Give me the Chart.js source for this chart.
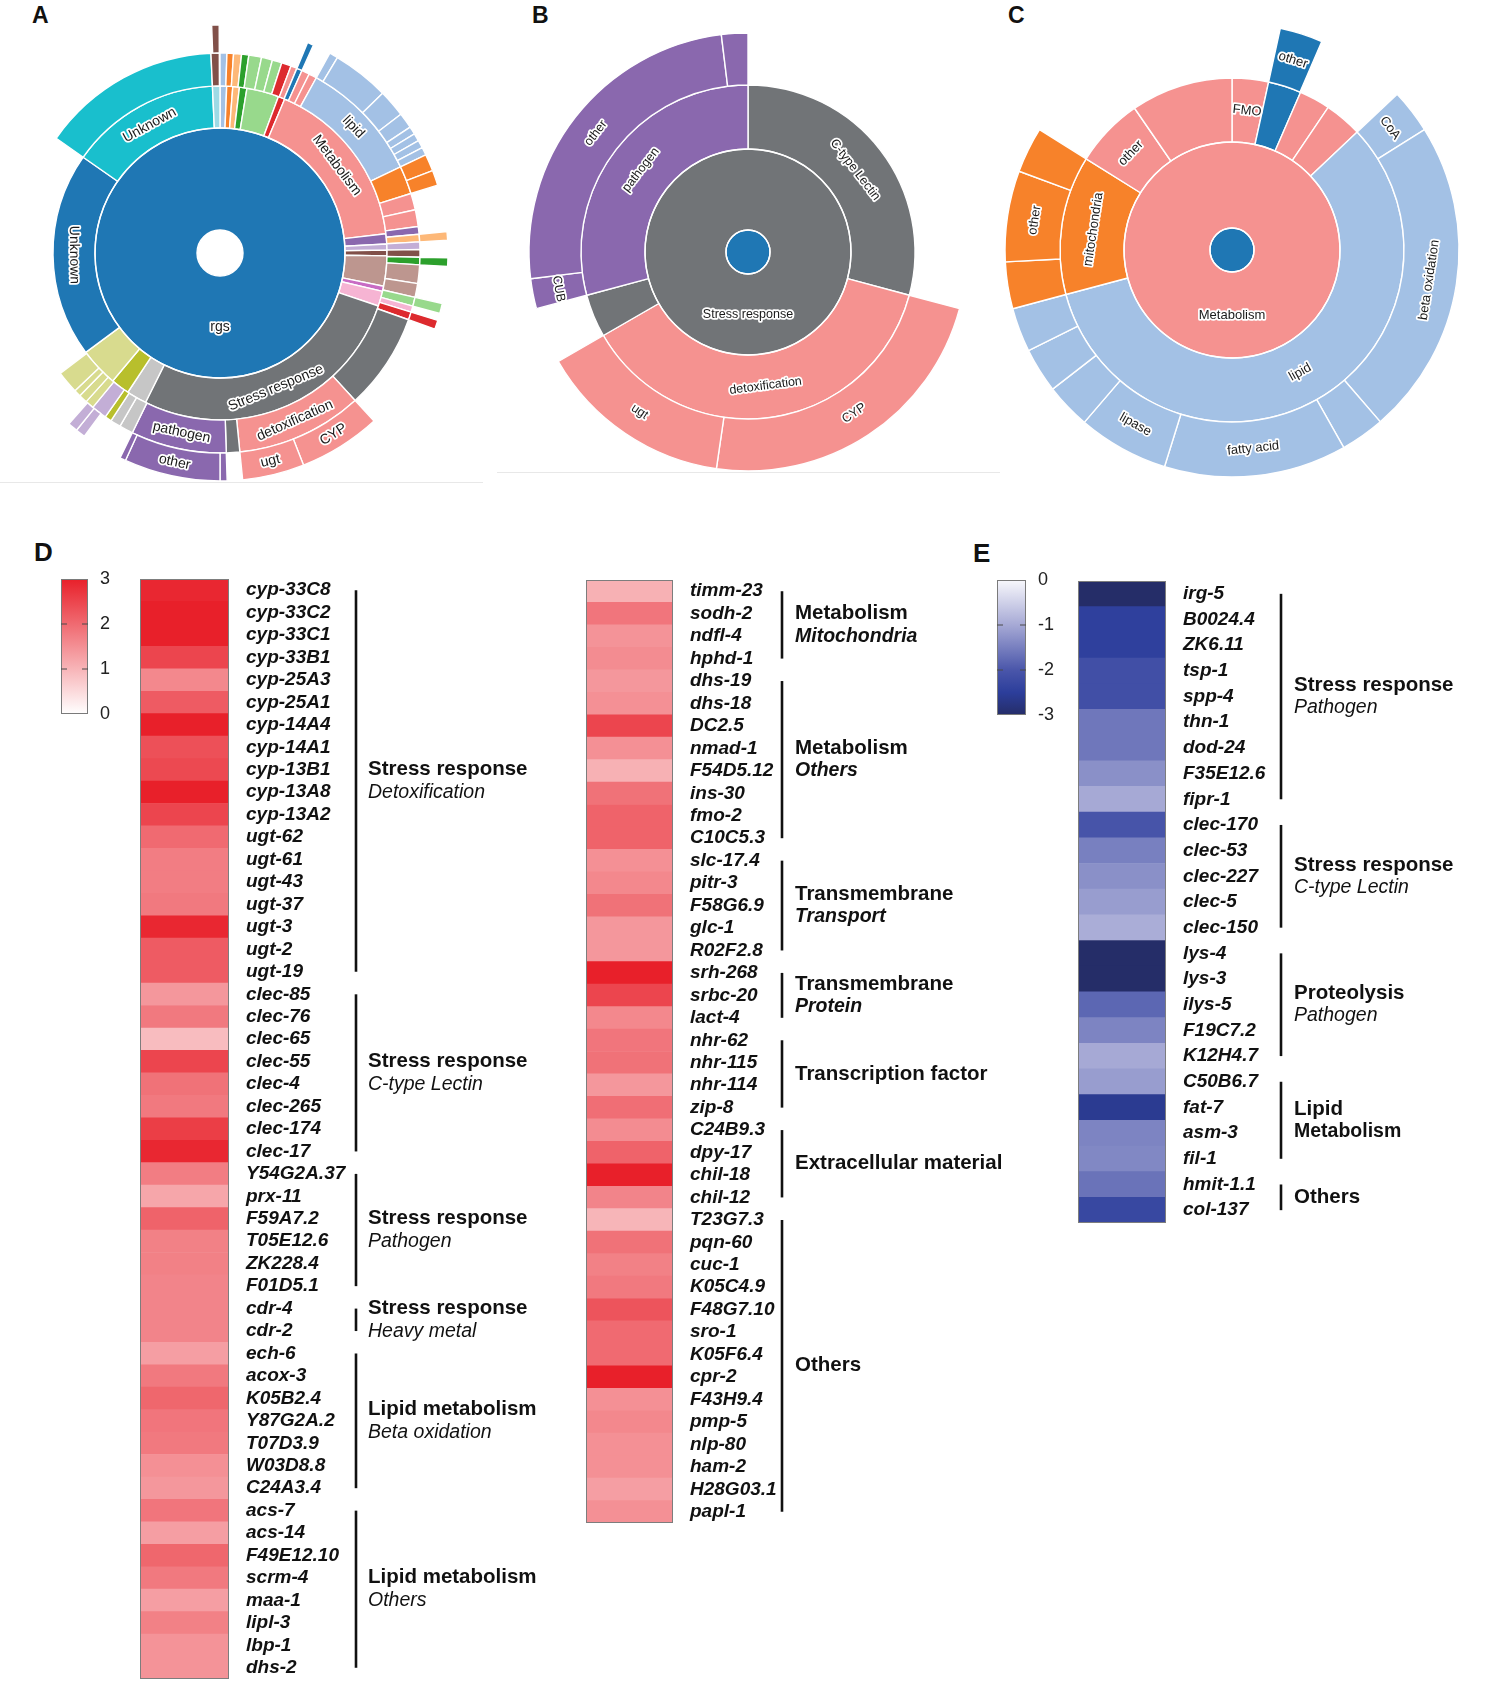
<!DOCTYPE html>
<html>
<head>
<meta charset="utf-8">
<title>Sunbursts and heatmaps</title>
<script src="https://cdn.jsdelivr.net/npm/chart.js@4.4.1/dist/chart.umd.min.js"></script>
<style>
  body { margin: 0; background: #fff; }
  #figure { position: relative; width: 1495px; height: 1681px; overflow: hidden; font-family: "Liberation Sans", Arial, sans-serif; color: #111; }
  .tag { position: absolute; font-weight: bold; line-height: 1; }
  .box { position: absolute; }
  .rule { position: absolute; height: 1px; background: #e8e8e8; }
</style>
</head>
<body>
<div id="figure">
  <div class="tag" style="left:32px;top:4px;font-size:23px">A</div>
  <div class="tag" style="left:532px;top:4px;font-size:23px">B</div>
  <div class="tag" style="left:1008px;top:4px;font-size:23px">C</div>
  <div class="tag" style="left:34px;top:539px;font-size:26px">D</div>
  <div class="tag" style="left:973px;top:540px;font-size:26px">E</div>
  <div class="rule" style="left:0;top:482px;width:483px"></div>
  <div class="rule" style="left:497px;top:472px;width:503px"></div>

  <canvas id="sunA" class="box"></canvas>
  <canvas id="sunB" class="box"></canvas>
  <canvas id="sunC" class="box"></canvas>
  <canvas id="heatD1" class="box"></canvas>
  <canvas id="heatD2" class="box"></canvas>
  <canvas id="heatE" class="box"></canvas>
  <canvas id="barD" class="box"></canvas>
  <canvas id="barE" class="box"></canvas>
</div>

<script>
// ---- sunburst A (segment spans in degrees, clockwise from 12 o'clock) ----
const aRing1 = [360]
const aRing1Labels = ["rgs"]
const aRing2 = [2.3, 2.1, 2.3, 2.6, 11.2, 2.3, 60.6, 3.5, 2.1, 2, 10.5, 1.8, 5.2, 98, 7, 6.5, 13.5, 71.5, 52.4, 2.6]
const aRing2Labels = ["", "", "", "", "", "", "Metabolism", "", "", "", "", "", "", "Stress response", "", "", "", "Unknown", "Unknown", ""]
const aRing3 = [2, 1.9, 2.3, 2.1, 3.7, 3.2, 2.8, 2.8, 1.8, 1.6, 2.3, 2.3, 35.7, 8.2, 4.8, 4.9, 2.2, 2.2, 2.2, 2.2, 2.2, 5.4, 4, 2.6, 1.8, 2.3, 28, 36.8, 3.9, 27.8, 4, 3, 2, 4.5, 2.5, 2.5, 2, 6.5, 72, 52.4, 2.4, 0.2]
const aRing3Labels = ["", "", "", "", "", "", "", "", "", "", "", "", "lipid", "", "", "", "", "", "", "", "", "", "", "", "", "", "", "detoxification", "", "pathogen", "", "", "", "", "", "", "", "", "", "", "", ""]
const aRing4 = [22.6, 1.6, 4.6, 2.2, 14.5, 7, 4, 2, 2, 2, 2, 4.3, 3.9, 11.9, 2.2, 4.4, 2.2, 9.4, 2.6, 1.8, 2.3, 28, 21, 15.8, 3.9, 1.8, 24.5, 1.5, 10.5, 2.5, 2.5, 136.4, 1.9, 0.2]
const aRing4Labels = ["", "", "", "", "", "", "", "", "", "", "", "", "", "", "", "", "", "", "", "", "", "", "CYP", "ugt", "", "", "other", "", "", "", "", "", "", ""]

// ---- sunburst B ----
const bRoot = [360]
const bRing1 = [360]
const bRing1Labels = ["Stress response"]
const bRing2 = [105, 135, 15, 105]
const bRing2Labels = ["C-type Lectin", "detoxification", "", "pathogen"]
const bRing3 = [105, 83.3, 51.7, 15, 8, 90, 7]
const bRing3Labels = ["", "CYP", "ugt", "", "CUB", "other", ""]

// ---- sunburst C ----
const cRoot = [360]
const cRing1 = [360]
const cRing1Labels = ["Metabolism"]
const cRing2 = [12.3, 11.2, 10.5, 12.7, 208.3, 47, 23.5, 34.5]
const cRing2Labels = ["FMO", "", "", "", "lipid", "mitochondria", "other", ""]
const cRing3 = [12.3, 11, 23.4, 11.3, 81.2, 11.3, 46.8, 23.3, 11.6, 11.5, 11.3, 12, 23.3, 11.7, 58]
const cRing3Labels = ["", "other", "", "CoA", "beta oxidation", "", "fatty acid", "lipase", "", "", "", "", "other", "", ""]

// ---- heatmap D (log2 fold change, up) ----
const d1Genes = ["cyp-33C8", "cyp-33C2", "cyp-33C1", "cyp-33B1", "cyp-25A3", "cyp-25A1", "cyp-14A4", "cyp-14A1", "cyp-13B1", "cyp-13A8", "cyp-13A2", "ugt-62", "ugt-61", "ugt-43", "ugt-37", "ugt-3", "ugt-2", "ugt-19", "clec-85", "clec-76", "clec-65", "clec-55", "clec-4", "clec-265", "clec-174", "clec-17", "Y54G2A.37", "prx-11", "F59A7.2", "T05E12.6", "ZK228.4", "F01D5.1", "cdr-4", "cdr-2", "ech-6", "acox-3", "K05B2.4", "Y87G2A.2", "T07D3.9", "W03D8.8", "C24A3.4", "acs-7", "acs-14", "F49E12.10", "scrm-4", "maa-1", "lipl-3", "lbp-1", "dhs-2"]
const d1Values = [2.9, 3.0, 3.0, 2.5, 1.6, 2.2, 3.0, 2.35, 2.45, 3.0, 2.5, 2.0, 1.75, 1.75, 1.8, 2.9, 2.2, 2.2, 1.4, 1.8, 0.9, 2.5, 1.9, 1.8, 2.6, 2.9, 1.75, 1.2, 2.1, 1.7, 1.7, 1.65, 1.65, 1.65, 1.3, 1.8, 2.05, 1.85, 1.8, 1.5, 1.4, 1.85, 1.3, 2.05, 1.8, 1.3, 1.7, 1.45, 1.45]
const d1GroupSizes = [18, 8, 6, 2, 7, 8]
const d1GroupTitles = ["Stress response", "Stress response", "Stress response", "Stress response", "Lipid metabolism", "Lipid metabolism"]
const d1GroupSubs = ["Detoxification", "C-type Lectin", "Pathogen", "Heavy metal", "Beta oxidation", "Others"]

const d2Genes = ["timm-23", "sodh-2", "ndfl-4", "hphd-1", "dhs-19", "dhs-18", "DC2.5", "nmad-1", "F54D5.12", "ins-30", "fmo-2", "C10C5.3", "slc-17.4", "pitr-3", "F58G6.9", "glc-1", "R02F2.8", "srh-268", "srbc-20", "lact-4", "nhr-62", "nhr-115", "nhr-114", "zip-8", "C24B9.3", "dpy-17", "chil-18", "chil-12", "T23G7.3", "pqn-60", "cuc-1", "K05C4.9", "F48G7.10", "sro-1", "K05F6.4", "cpr-2", "F43H9.4", "pmp-5", "nlp-80", "ham-2", "H28G03.1", "papl-1"]
const d2Values = [1.05, 1.85, 1.45, 1.55, 1.4, 1.5, 2.5, 1.5, 1.05, 1.9, 2.1, 2.1, 1.5, 1.6, 1.9, 1.4, 1.4, 3.0, 2.5, 1.6, 1.85, 1.9, 1.4, 1.95, 1.55, 2.1, 3.0, 1.65, 1.0, 1.9, 1.7, 1.8, 2.3, 2.0, 2.0, 3.0, 1.5, 1.6, 1.5, 1.5, 1.3, 1.5]
const d2GroupSizes = [4, 8, 5, 3, 4, 4, 14]
const d2GroupTitles = ["Metabolism", "Metabolism", "Transmembrane", "Transmembrane", "Transcription factor", "Extracellular material", "Others"]
const d2GroupSubs = ["Mitochondria", "Others", "Transport", "Protein", "", "", ""]
const dTicks = [0, 1, 2, 3]

// ---- heatmap E (down) ----
const eGenes = ["irg-5", "B0024.4", "ZK6.11", "tsp-1", "spp-4", "thn-1", "dod-24", "F35E12.6", "fipr-1", "clec-170", "clec-53", "clec-227", "clec-5", "clec-150", "lys-4", "lys-3", "ilys-5", "F19C7.2", "K12H4.7", "C50B6.7", "fat-7", "asm-3", "fil-1", "hmit-1.1", "col-137"]
const eValues = [-3.0, -2.45, -2.45, -2.15, -2.15, -1.6, -1.6, -1.3, -1.0, -2.05, -1.5, -1.3, -1.15, -0.95, -3.0, -3.0, -1.8, -1.45, -1.0, -1.15, -2.6, -1.45, -1.4, -1.65, -2.3]
const eGroupSizes = [9, 5, 5, 4, 2]
const eGroupTitles = ["Stress response", "Stress response", "Proteolysis", "Lipid", "Others"]
const eGroupSubs = ["Pathogen", "C-type Lectin", "Pathogen", "Metabolism", ""]
const eTicks = [0, -1, -2, -3]

// ---- styles ----
const PALETTE = {
  T: "rgba(0,0,0,0)", bl: "#1f77b4", lb: "#a3c1e5", or: "#f7822a", lo: "#fdb878", gr: "#2ca02c",
  lg: "#98d98c", rd: "#dd2a2e", pk: "#f59290", pu: "#8a68ae", lv: "#c3aed6", br: "#815049",
  rb: "#bd968f", mg: "#c86bc4", lp: "#f6b4d3", gy: "#717477", lgy: "#c6c6c6", ol: "#b8bf2c",
  lol: "#d8db8e", cy: "#19bfcd", lcy: "#9edae5",
}
const aRing1Colors = ["bl"]
const aRing2Colors = ["lb", "or", "lo", "gr", "lg", "rd", "pk", "pu", "lv", "br", "rb", "mg", "lp", "gy", "lgy", "ol", "lol", "bl", "cy", "lcy"]
const aRing3Colors = ["lb", "or", "lo", "gr", "lg", "lg", "lg", "rd", "pk", "bl", "pk", "pk", "lb", "or", "pk", "pk", "pu", "lo", "lv", "br", "gr", "rb", "rb", "lg", "lp", "rd", "gy", "pk", "gy", "pu", "lgy", "lgy", "ol", "lv", "lol", "lol", "lol", "lol", "T", "cy", "br", "T"]
const aRing4Colors = ["T", "bl", "T", "lb", "lb", "lb", "lb", "lb", "lb", "lb", "lb", "or", "or", "T", "lo", "T", "gr", "T", "lg", "T", "rd", "T", "pk", "pk", "T", "pu", "pu", "pu", "T", "lv", "lv", "T", "br", "T"]
const bRootColors = ["bl"]
const bRing1Colors = ["gy"]
const bRing2Colors = ["gy", "pk", "gy", "pu"]
const bRing3Colors = ["T", "pk", "pk", "T", "pu", "pu", "pu"]
const cRootColors = ["bl"]
const cRing1Colors = ["pk"]
const cRing2Colors = ["pk", "bl", "pk", "pk", "lb", "or", "pk", "pk"]
const cRing3Colors = ["T", "bl", "T", "lb", "lb", "lb", "lb", "lb", "lb", "lb", "lb", "or", "or", "or", "T"]

const RED_STOPS = [[0, [255, 255, 255]], [3, [232, 32, 42]]]
const BLUE_STOPS = [[-3, [37, 45, 104]], [-2.5, [44, 62, 155]], [-2, [74, 86, 170]], [-1, [166, 169, 213]], [0, [248, 248, 252]]]

function mount(id, left, top, width, height) {
  const c = document.getElementById(id)
  c.width = width
  c.height = height
  c.style.left = left + "px"
  c.style.top = top + "px"
  c.style.width = width + "px"
  c.style.height = height + "px"
  return c
}

function rampColor(stops, v) {
  const s = stops.slice().sort((p, q) => p[0] - q[0])
  if (v <= s[0][0]) return `rgb(${s[0][1].join(",")})`
  for (let i = 1; i < s.length; i++) {
    if (v <= s[i][0]) {
      const t = (v - s[i - 1][0]) / (s[i][0] - s[i - 1][0])
      const c = s[i - 1][1].map((a, k) => Math.round(a + (s[i][1][k] - a) * t))
      return `rgb(${c.join(",")})`
    }
  }
  return `rgb(${s[s.length - 1][1].join(",")})`
}

// White outlines for whole-circle rings, then labels written along each arc
function arcLabels(size) {
  return {
    id: "arcLabels",
    afterDatasetsDraw(chart) {
      const ctx = chart.ctx
      ctx.save()
      chart.data.datasets.forEach((ds, i) => {
        const arcs = chart.getDatasetMeta(i).data
        if (arcs.length !== 1) return
        const p = arcs[0].getProps(["x", "y", "innerRadius", "outerRadius"], true)
        ctx.strokeStyle = "#ffffff"
        ctx.lineWidth = 1.4
        ;[p.innerRadius, p.outerRadius].forEach((r) => {
          if (r <= 0) return
          ctx.beginPath()
          ctx.arc(p.x, p.y, r, 0, Math.PI * 2)
          ctx.stroke()
        })
      })

      ctx.font = `${size}px "Liberation Sans", Arial, sans-serif`
      ctx.textAlign = "center"
      ctx.textBaseline = "middle"
      ctx.lineJoin = "round"
      chart.data.datasets.forEach((ds, i) => {
        chart.getDatasetMeta(i).data.forEach((arc, j) => {
          const text = ds.ringLabels && ds.ringLabels[j]
          if (!text) return
          const p = arc.getProps(["x", "y", "startAngle", "endAngle", "innerRadius", "outerRadius"], true)
          const mid = (p.startAngle + p.endAngle) / 2
          const r = (p.innerRadius + p.outerRadius) / 2
          let rot = mid + Math.PI / 2
          rot = Math.atan2(Math.sin(rot), Math.cos(rot))
          if (rot > Math.PI / 2) rot -= Math.PI
          if (rot < -Math.PI / 2) rot += Math.PI
          ctx.save()
          ctx.translate(p.x + Math.cos(mid) * r, p.y + Math.sin(mid) * r)
          ctx.rotate(rot)
          ctx.strokeStyle = "#ffffff"
          ctx.lineWidth = 3.5
          ctx.strokeText(text, 0, 0)
          ctx.fillStyle = "#1a1a1a"
          ctx.fillText(text, 0, 0)
          ctx.restore()
        })
      })
      ctx.restore()
    },
  }
}

function sunburst(canvas, rings, radius, cutout, fontSize) {
  new Chart(canvas, {
    type: "doughnut",
    data: {
      datasets: rings.map((r) => ({
        data: r.spans,
        backgroundColor: r.colors.map((k) => PALETTE[k]),
        borderColor: r.colors.map((k) => (k === "T" ? "rgba(0,0,0,0)" : "#ffffff")),
        // a lone 360° segment gets no border (it would show a seam at 12 o'clock)
        borderWidth: r.colors.map((k) => (k === "T" || r.spans.length === 1 ? 0 : 1.4)),
        weight: r.weight,
        ringLabels: r.labels,
      })),
    },
    options: {
      responsive: false,
      animation: false,
      events: [],
      radius: radius,
      cutout: cutout,
      plugins: { legend: { display: false }, tooltip: { enabled: false } },
    },
    plugins: [arcLabels(fontSize)],
  })
}

// Brackets and group names to the right of a heat column
function groupBrackets(g) {
  return {
    id: "groupBrackets",
    afterDraw(chart) {
      const { ctx, chartArea: a } = chart
      const y = chart.scales.y
      ctx.save()
      ctx.strokeStyle = "#7d7d7d"
      ctx.lineWidth = 1
      ctx.strokeRect(a.left + 0.5, a.top + 0.5, a.width - 1, a.height - 1)
      let start = 0
      g.sizes.forEach((n, k) => {
        const y0 = y.getPixelForValue(start)
        const y1 = y.getPixelForValue(start + n - 1)
        start += n
        const bx = a.right + g.bracket
        ctx.strokeStyle = "#111"
        ctx.lineWidth = 2.6
        ctx.beginPath()
        ctx.moveTo(bx, y0)
        ctx.lineTo(bx, y1)
        ctx.stroke()
        const mid = (y0 + y1) / 2
        const tx = a.right + g.text
        ctx.fillStyle = "#111"
        ctx.textAlign = "left"
        ctx.textBaseline = "middle"
        ctx.font = 'bold 20.5px "Liberation Sans", Arial, sans-serif'
        const sub = g.subs[k]
        if (sub) {
          ctx.fillText(g.titles[k], tx, mid - g.gap / 2)
          ctx.font = g.subFont[k] + ' 19.5px "Liberation Sans", Arial, sans-serif'
          ctx.fillText(sub, tx, mid + g.gap / 2)
        } else {
          ctx.fillText(g.titles[k], tx, mid)
        }
      })
      ctx.restore()
    },
  }
}

function heatColumn(canvas, genes, values, stops, axisWidth, groups) {
  new Chart(canvas, {
    type: "bar",
    data: {
      labels: genes,
      datasets: [
        {
          data: genes.map(() => 1),
          backgroundColor: values.map((v) => rampColor(stops, v)),
          borderWidth: 0,
          barPercentage: 1,
          categoryPercentage: 1,
        },
      ],
    },
    options: {
      indexAxis: "y",
      responsive: false,
      animation: false,
      events: [],
      plugins: { legend: { display: false }, tooltip: { enabled: false } },
      scales: {
        x: { display: false, min: 0, max: 1 },
        y: {
          position: "right",
          grid: { display: false, drawTicks: false },
          border: { display: false },
          ticks: {
            autoSkip: false,
            padding: 17,
            color: "#111",
            font: { family: "Liberation Sans", size: 19, weight: "bold", style: "italic" },
          },
          afterFit(s) {
            s.width = axisWidth
            s.paddingTop = 0
            s.paddingBottom = 0
          },
        },
      },
    },
    plugins: [groupBrackets(groups)],
  })
}

// Colour key drawn as a single floating bar with a gradient fill
function colorKey(canvas, ticks, stops, pad) {
  const lo = Math.min(...ticks)
  const hi = Math.max(...ticks)
  new Chart(canvas, {
    type: "bar",
    data: {
      labels: [""],
      datasets: [
        {
          data: [[lo, hi]],
          borderWidth: 0,
          barPercentage: 1,
          categoryPercentage: 1,
          backgroundColor: (c) => {
            const a = c.chart.chartArea
            if (!a) return "rgba(0,0,0,0)"
            const yScale = c.chart.scales.y
            const g = c.chart.ctx.createLinearGradient(0, yScale.getPixelForValue(lo), 0, yScale.getPixelForValue(hi))
            stops.forEach(([v, rgb]) => g.addColorStop((v - lo) / (hi - lo), `rgb(${rgb.join(",")})`))
            return g
          },
        },
      ],
    },
    options: {
      responsive: false,
      animation: false,
      events: [],
      layout: { padding: pad },
      plugins: { legend: { display: false }, tooltip: { enabled: false } },
      scales: { x: { display: false }, y: { display: false, min: lo, max: hi } },
    },
    plugins: [
      {
        id: "keyTicks",
        afterDraw(chart) {
          const { ctx, chartArea: a } = chart
          const y = chart.scales.y
          ctx.save()
          ctx.strokeStyle = "#7a7a7a"
          ctx.lineWidth = 1
          ctx.strokeRect(a.left + 0.5, a.top + 0.5, a.width - 1, a.height - 1)
          ctx.fillStyle = "#222"
          ctx.font = '18px "Liberation Sans", Arial, sans-serif'
          ctx.textAlign = "left"
          ctx.textBaseline = "middle"
          ticks.forEach((t) => {
            const py = y.getPixelForValue(t)
            ctx.fillText(String(t), a.right + 12, py)
            if (t !== lo && t !== hi) {
              ctx.strokeStyle = "#4a4a4a"
              ctx.beginPath()
              ctx.moveTo(a.left, py)
              ctx.lineTo(a.left + 6, py)
              ctx.moveTo(a.right - 6, py)
              ctx.lineTo(a.right, py)
              ctx.stroke()
            }
          })
          ctx.restore()
        },
      },
    ],
  })
}

// ---- panels A-C ----
sunburst(mount("sunA", 220 - 240, 253 - 240, 480, 480), [
  { spans: aRing4, colors: aRing4Colors, labels: aRing4Labels, weight: 28 },
  { spans: aRing3, colors: aRing3Colors, labels: aRing3Labels, weight: 33 },
  { spans: aRing2, colors: aRing2Colors, labels: aRing2Labels, weight: 42 },
  { spans: aRing1, colors: aRing1Colors, labels: aRing1Labels, weight: 102 },
], 228, (23 / 228 * 100).toFixed(2) + "%", 14)

sunburst(mount("sunB", 748 - 240, 252 - 240, 480, 480), [
  { spans: bRing3, colors: bRing3Colors, labels: bRing3Labels, weight: 52 },
  { spans: bRing2, colors: bRing2Colors, labels: bRing2Labels, weight: 64 },
  { spans: bRing1, colors: bRing1Colors, labels: bRing1Labels, weight: 81 },
  { spans: bRoot, colors: bRootColors, labels: [""], weight: 22 },
], 219, 0, 12.5)

sunburst(mount("sunC", 1232 - 240, 250 - 240, 480, 480), [
  { spans: cRing3, colors: cRing3Colors, labels: cRing3Labels, weight: 55 },
  { spans: cRing2, colors: cRing2Colors, labels: cRing2Labels, weight: 64 },
  { spans: cRing1, colors: cRing1Colors, labels: cRing1Labels, weight: 86 },
  { spans: cRoot, colors: cRootColors, labels: [""], weight: 22 },
], 227, 0, 13)

// ---- panels D and E ----
colorKey(mount("barD", 61, 569, 80, 156), dTicks, RED_STOPS, { top: 10, bottom: 11, left: 0, right: 53 })
colorKey(mount("barE", 997, 570, 85, 156), eTicks, BLUE_STOPS, { top: 10, bottom: 11, left: 0, right: 56 })

heatColumn(mount("heatD1", 140, 579, 470, 1100), d1Genes, d1Values, RED_STOPS, 381, {
  sizes: d1GroupSizes, titles: d1GroupTitles, subs: d1GroupSubs,
  subFont: d1GroupSubs.map(() => "italic"), bracket: 127, text: 139, gap: 23,
})
heatColumn(mount("heatD2", 586, 580, 430, 943), d2Genes, d2Values, RED_STOPS, 343, {
  sizes: d2GroupSizes, titles: d2GroupTitles, subs: d2GroupSubs,
  subFont: d2GroupSubs.map(() => "italic bold"), bracket: 109, text: 122, gap: 23,
})
heatColumn(mount("heatE", 1078, 581, 417, 642), eGenes, eValues, BLUE_STOPS, 329, {
  sizes: eGroupSizes, titles: eGroupTitles, subs: eGroupSubs,
  subFont: ["italic", "italic", "italic", "bold", "italic"], bracket: 115, text: 128, gap: 22,
})
</script>
</body>
</html>
